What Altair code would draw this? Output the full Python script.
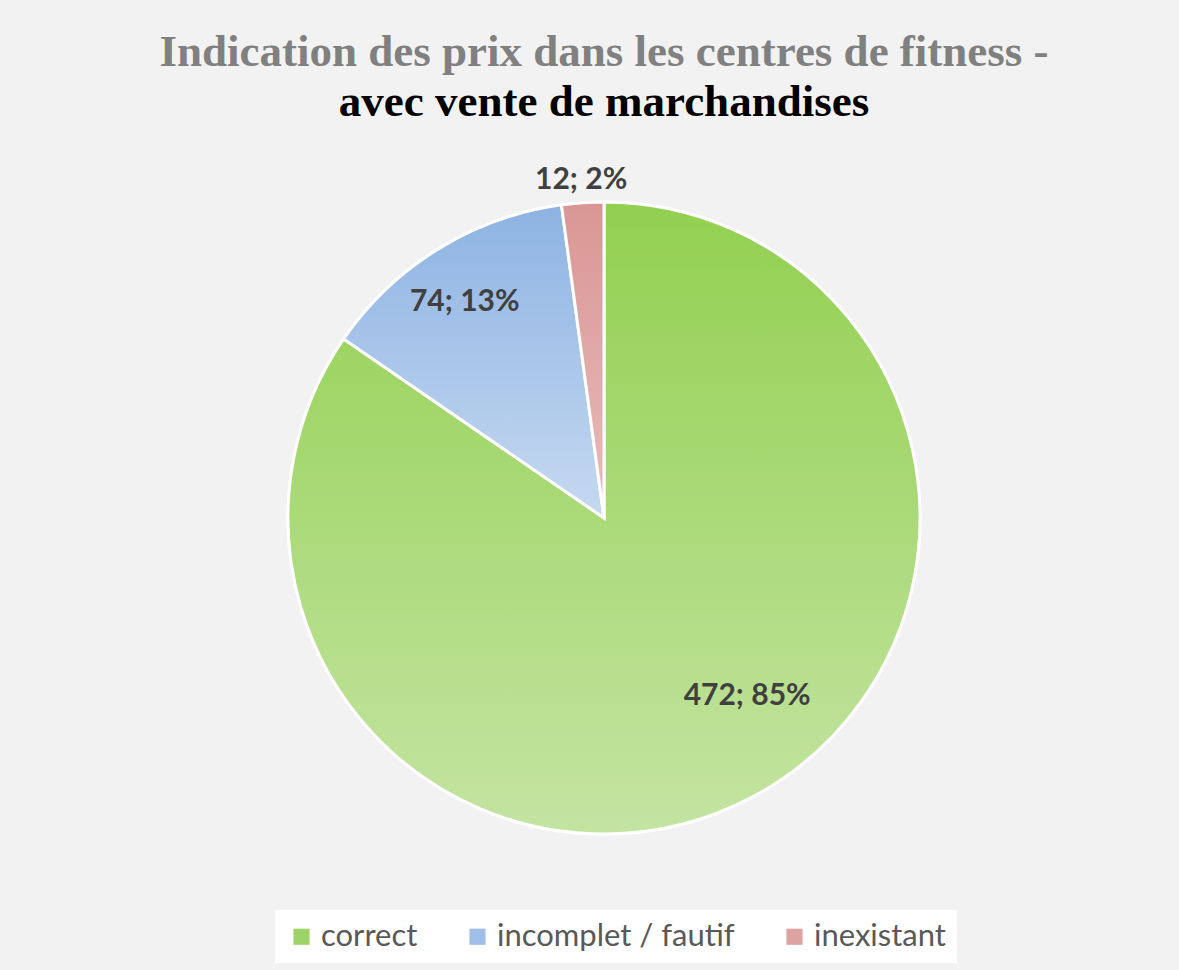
import altair as alt
import pandas as pd

categories = ["correct", "incomplet / fautif", "inexistant"]
counts = [472, 74, 12]
percents = ["85%", "13%", "2%"]
order = [0, 1, 2]

solid_colors = ["#9ED36A", "#A0BFE8", "#DCA3A2"]
grad_top = ["#92D050", "#8DB3E2", "#D99694"]
grad_bottom = ["#C4E4A2", "#C6D9F1", "#E8BCBB"]

total = sum(counts)
df = pd.DataFrame({"cat": categories, "count": counts, "pct": percents, "order": order})
df["label"] = [f"{c}; {p}" for c, p in zip(counts, percents)]

theta_scale = alt.Scale(domain=[0, total])

base = alt.Chart(df).transform_stack(
    stack="count", groupby=[], as_=["v0", "v1"], sort=[alt.SortField("order")]
).transform_calculate(mid="(datum.v0 + datum.v1) / 2")

legend_layer = base.mark_arc(radius=316, stroke="white", strokeWidth=3).encode(
    theta=alt.Theta("v0:Q", scale=theta_scale),
    theta2="v1:Q",
    color=alt.Color(
        "cat:N",
        scale=alt.Scale(domain=categories, range=solid_colors),
        legend=alt.Legend(
            title=None, orient="none", direction="horizontal",
            legendX=245, legendY=740,
        ),
    ),
)

layers = [legend_layer]
for i, cat in enumerate(categories):
    grad = alt.Gradient(
        gradient="linear",
        stops=[
            alt.GradientStop(color=grad_top[i], offset=0),
            alt.GradientStop(color=grad_bottom[i], offset=1),
        ],
        x1=0, x2=0, y1=0, y2=1,
    )
    layers.append(
        base.transform_filter(alt.datum.cat == cat)
        .mark_arc(radius=316, stroke="white", strokeWidth=3, fill=grad)
        .encode(theta=alt.Theta("v0:Q", scale=theta_scale), theta2="v1:Q")
    )

label_style = dict(font="Lato", fontWeight="bold", fontSize=30, color="#404040")
label_radius = [228, 258, 339]
label_dx = [37, -4, 0]
label_dy = [-24, 4, 0]
for i, cat in enumerate(categories):
    layers.append(
        base.transform_filter(alt.datum.cat == cat)
        .mark_text(radius=label_radius[i], dx=label_dx[i], dy=label_dy[i], **label_style)
        .encode(theta=alt.Theta("mid:Q", scale=theta_scale), text="label:N")
    )

chart = alt.layer(*layers).properties(
    width=1148,
    height=696,
    title=alt.TitleParams(
        text="Indication des prix dans les centres de fitness -",
        subtitle="avec vente de marchandises",
        anchor="middle",
        font="Liberation Serif",
        fontSize=45,
        fontWeight="bold",
        color="#808080",
        subtitleFont="Liberation Serif",
        subtitleFontSize=45,
        subtitleFontWeight="bold",
        subtitleColor="#000000",
        subtitlePadding=5,
        offset=40,
    ),
    autosize=alt.AutoSizeParams(type="none"),
    padding={"left": 30, "top": 170, "right": 1, "bottom": 104},
).configure(background="#F2F2F2").configure_view(stroke=None).configure_legend(
    labelFont="Lato",
    labelFontSize=31,
    labelColor="#595959",
    symbolType="square",
    symbolSize=260,
    symbolStrokeWidth=0,
    fillColor="#FFFFFF",
    padding=11,
    columnPadding=44,
    labelLimit=400,
)

chart.save("out.html", embed_options={"renderer": "svg", "actions": False})
